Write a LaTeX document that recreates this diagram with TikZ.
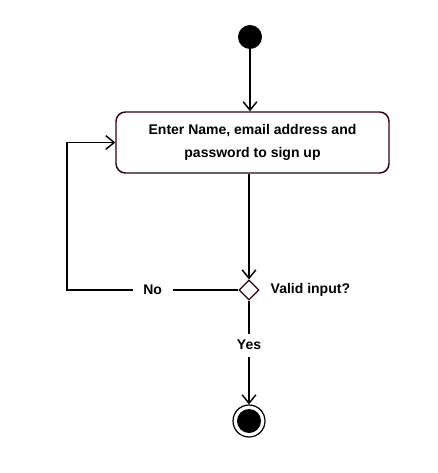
\documentclass[tikz,border=0pt]{standalone}
\usepackage{fontspec}
\setmainfont{Liberation Sans}
\usetikzlibrary{arrows.meta}
\usetikzlibrary{positioning,calc,shapes}
\definecolor{boxline}{RGB}{51,0,26}
\tikzset{
    action/.style={
        draw=boxline,
        rectangle,
        rounded corners=7pt,
        fill=white,
        line width=1.1pt,
        minimum width=204.75pt,
        minimum height=45.75pt,
        align=center,
        font=\fontsize{10.5}{17}\selectfont\bfseries
    },
    decision/.style={
        draw=boxline,
        diamond,
        fill=white,
        line width=0.9pt,
        minimum size=15pt,
        inner sep=0pt
    },
    initial/.style={
        circle,
        fill=black,
        minimum size=18pt,
        inner sep=0pt
    },
    finalring/.style={
        circle,
        draw=black,
        line width=0.9pt,
        fill=white,
        minimum size=24pt,
        inner sep=0pt
    },
    finalcore/.style={
        circle,
        fill=black,
        minimum size=18pt,
        inner sep=0pt
    },
    flow/.style={
        draw,
        -{Straight Barb[length=2.2mm, width=3.6mm]},
        line width=1.1pt
    },
    guard/.style={
        fill=white,
        inner xsep=8pt,
        inner ysep=5pt,
        font=\fontsize{10.5}{12}\selectfont\bfseries
    }
}

\begin{document}
\begin{tikzpicture}[x=0.75pt, y=-0.75pt]
    \useasboundingbox (0,0) rectangle (437,473);
    % Nodes of the activity
    \node[initial] (start) at (250,37) {};
    \node[action] (act) at (252.5,142.5) {Enter Name, email address and\\password to sign up};
    \node[decision] (dec) at (249,290) {};
    \node[font=\fontsize{10.5}{12}\selectfont\bfseries, anchor=west] (valid) at (266,290) {Valid input?};
    \node[finalring] (end) at (249,421) {};
    \node[finalcore] (endin) at (end) {};
    \coordinate (back) at (67,290);

    % Transitions
    \draw[flow] (start) -- (act.north -| start);
    \draw[flow] (act.south -| dec) -- (dec.north);
    \draw[flow] (dec.west) -- node[guard, pos=0.5] {No} (back) |- (act.west);
    \draw[flow] (dec.south) -- node[guard, pos=0.43] {Yes} (end.north);
\end{tikzpicture}
\end{document}
